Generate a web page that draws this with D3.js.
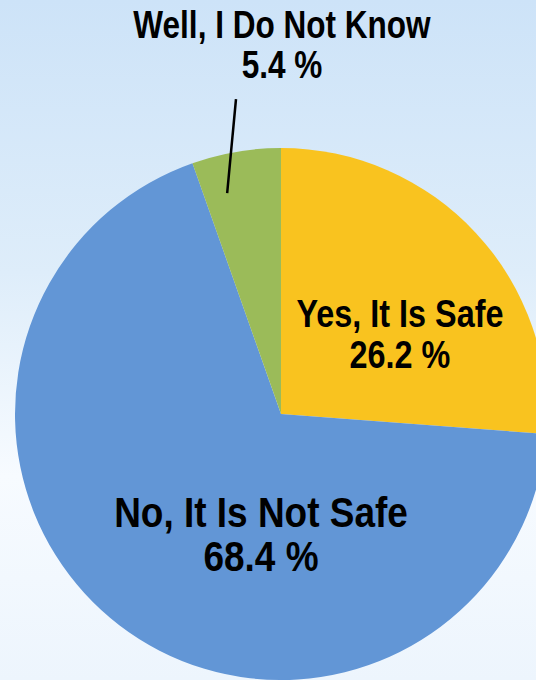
<!DOCTYPE html>
<html lang="en">

<head>
  <meta charset="UTF-8">
  <title>Is It Safe?</title>
  <script src="https://d3js.org/d3.v7.min.js"></script>
  <style>
    body {
      margin: 0;
      overflow: hidden;
    }

    .lbl {
      font-family: "Liberation Sans Narrow", "Arial Narrow", "Liberation Sans", Arial, sans-serif;
      font-weight: bold;
      fill: #000;
      text-anchor: middle;
    }
  </style>
</head>

<body>
  <script>
    // data
    var categories = ["Yes, It Is Safe", "No, It Is Not Safe", "Well, I Do Not Know"]
    var values = [26.2, 68.4, 5.4]
    var colors = ["#f9c31f", "#6296d6", "#9bbb59"]

    w = 536
    h = 680
    var cx = 281, cy = 414, radius = 266

    // where excel put the labels (offsets from pie centre)
    // no narrow font here, so the bold one gets squashed a bit
    var labelPos = [
      { dx: 119, dy: -87, size: 39, squeeze: 0.83 },
      { dx: -20, dy: 113, size: 42, squeeze: 0.88 },
      { dx: 1, dy: -376, size: 38, squeeze: 0.83 }
    ]

    var svg = d3.select("body").append("svg")
      .attr("width", w)
      .attr("height", h)

    // sky-ish background
    var grad = svg.append("defs").append("linearGradient")
      .attr("id", "bg")
      .attr("x1", 0).attr("y1", 0).attr("x2", 0).attr("y2", 1)
    grad.append("stop").attr("offset", "0%").attr("stop-color", "#cde3f8")
    grad.append("stop").attr("offset", "40%").attr("stop-color", "#deedfa")
    grad.append("stop").attr("offset", "70%").attr("stop-color", "#f7fbff")
    grad.append("stop").attr("offset", "100%").attr("stop-color", "#edf5fd")

    svg.append("rect")
      .attr("width", w)
      .attr("height", h)
      .attr("fill", "url(#bg)")

    var g = svg.append("g")
      .attr("transform", "translate(" + cx + "," + cy + ")")

    var pie = d3.pie().sort(null).value(function (d) { return d; })
    var arc = d3.arc().innerRadius(0).outerRadius(radius)

    var slices = pie(values)

    g.selectAll(".slice")
      .data(slices)
      .enter().append("path")
      .attr("class", "slice")
      .attr("d", arc)
      .attr("fill", function (d, i) { return colors[i] })

    // leader line for the small slice
    var inner = { a: -0.239, r: radius * 0.855 }
    var outer = { a: -0.142, r: 318 }
    g.append("line")
      .attr("x1", Math.sin(inner.a) * inner.r)
      .attr("y1", -Math.cos(inner.a) * inner.r)
      .attr("x2", Math.sin(outer.a) * outer.r)
      .attr("y2", -Math.cos(outer.a) * outer.r)
      .attr("stroke", "#000")
      .attr("stroke-width", 2.5)

    // labels
    slices.forEach(function (d, i) {
      var p = labelPos[i]
      var t = g.append("text")
        .attr("class", "lbl")
        .attr("x", p.dx)
        .attr("y", p.dy)
        .attr("font-size", p.size)
      var lines = [categories[i], d3.format(".1f")(values[i]) + " %"]
      lines.forEach(function (s, k) {
        var ts = t.append("tspan")
          .attr("x", p.dx)
          .attr("dy", k == 0 ? 0 : p.size * 1.05)
          .text(s)
        var len = ts.node().getComputedTextLength()
        ts.attr("textLength", len * p.squeeze).attr("lengthAdjust", "spacingAndGlyphs")
      })
    })
  </script>
</body>

</html>
